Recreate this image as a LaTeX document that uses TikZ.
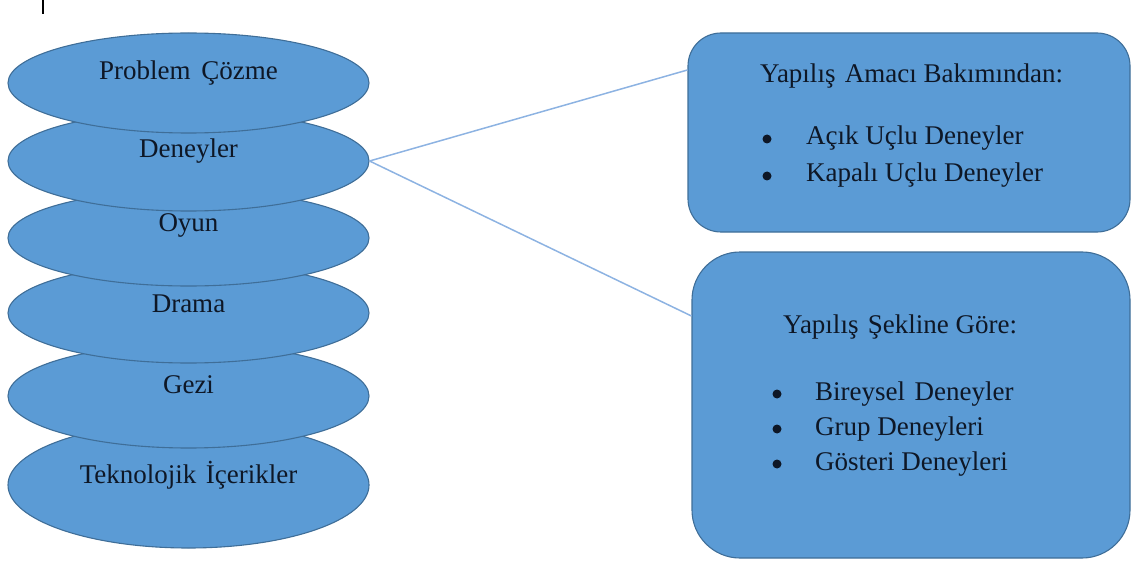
\documentclass[tikz,border=0pt]{standalone}
\usepackage{fontspec}
\setmainfont{Liberation Serif}
\usetikzlibrary{shapes.geometric}
\definecolor{fillblue}{HTML}{5B9BD5}
\definecolor{edgeblue}{HTML}{3F6E98}
\definecolor{linkblue}{HTML}{8DB3E2}
\definecolor{ink}{HTML}{0E1726}
\begin{document}
\begin{tikzpicture}[x=1pt,y=-1pt,
  oval/.style={ellipse, draw=edgeblue, fill=fillblue, line width=1.1pt, minimum width=361pt, inner sep=0pt},
  lbl/.style={anchor=base, font=\fontsize{27}{31}\selectfont, text=ink, inner sep=0pt},
  itm/.style={anchor=base west, font=\fontsize{27}{31}\selectfont, text=ink, inner sep=0pt},
  bul/.style={circle, fill=ink, minimum size=9pt, inner sep=0pt},
  card/.style={draw=edgeblue, fill=fillblue, line width=1.1pt, inner sep=0pt},
  link/.style={draw=linkblue, line width=1.5pt}]
\useasboundingbox (0,0) rectangle (1132,564);

% cursor mark
\coordinate (cur1) at (43,0);
\coordinate (cur2) at (43,14);
\draw[line width=1.8pt] (cur1) -- (cur2);

% boxes
\node[card, rounded corners=33pt, minimum width=442pt, minimum height=199pt] (b1) at (909,132.5) {};
\node[card, rounded corners=48pt, minimum width=438pt, minimum height=306pt] (b2) at (911,405) {};

% stacked ellipses, bottom first
\node[oval, minimum height=126pt] (tek) at (188.5,485) {};
\node[oval, minimum height=104pt] (gez) at (188.5,396) {};
\node[oval, minimum height=100pt] (dra) at (188.5,313) {};
\node[oval, minimum height=96pt] (oyu) at (188.5,238) {};
\node[oval, minimum height=100pt] (den) at (188.5,161) {};
\node[oval, minimum height=100pt] (pro) at (188.5,83) {};

\node[lbl] (tpro) at (188.5,80) {Problem\hspace{0.15em} Çözme};
\node[lbl] (tden) at (188.5,158) {Deneyler};
\node[lbl] (toyu) at (188.5,232) {Oyun};
\node[lbl] (tdra) at (188.5,312) {Drama};
\node[lbl] (tgez) at (188.5,393) {Gezi};
\node[lbl] (ttek) at (188.5,483) {Teknolojik\hspace{0.1em} İçerikler};

\draw[link] (den.east) -- ([yshift=62.5pt]b1.west);
\draw[link] (den.east) -- ([yshift=89pt]b2.west);

% box 1 text
\node[itm] (h1) at (760,83) {Yapılış\hspace{0.1em} Amacı Bakımından:};
\node[bul] (p1) at (767,139) {};
\node[itm] (i1) at (806,145) {Açık Uçlu Deneyler};
\node[bul] (p2) at (767,176) {};
\node[itm] (i2) at (806,182) {Kapalı Uçlu Deneyler};

% box 2 text
\node[itm] (h2) at (783,333) {Yapılış\hspace{0.1em} Şekline Göre:};
\node[bul] (q1) at (777,394) {};
\node[itm] (j1) at (815,400) {Bireysel\hspace{0.1em} Deneyler};
\node[bul] (q2) at (777,429) {};
\node[itm] (j2) at (815,435) {Grup Deneyleri};
\node[bul] (q3) at (777,464) {};
\node[itm] (j3) at (815,470) {Gösteri Deneyleri};
\end{tikzpicture}
\end{document}
